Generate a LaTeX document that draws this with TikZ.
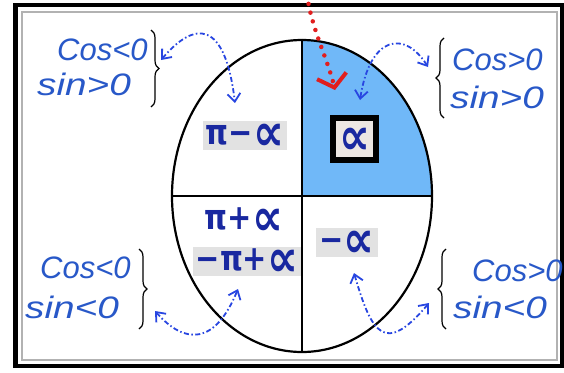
\documentclass[tikz,border=0pt]{standalone}
\usepackage{fontspec}
\usetikzlibrary{arrows.meta,decorations.pathreplacing,shapes.geometric}
\newfontfamily\hand{Liberation Sans}
\newfontfamily\mfont{DejaVu Sans}
\newcommand\prp{\raisebox{-5pt}[15pt][0pt]{\scalebox{1.5}{∝}}}
\newcommand\lbl[1]{\scalebox{1}[1.2]{#1}}
\newcommand\wide[1]{\scalebox{1.25}[1]{#1}}
\definecolor{qblue}{RGB}{112,184,248}
\definecolor{lblue}{RGB}{25,40,160}
\definecolor{tblue}{RGB}{40,88,200}
\definecolor{ablue}{RGB}{40,70,225}
\definecolor{rred}{RGB}{225,30,30}
\definecolor{bggray}{RGB}{226,226,226}
\definecolor{boxfill}{RGB}{236,230,226}
\begin{document}
\begin{tikzpicture}[x=1pt,y=-1pt,
  lab/.style={font=\mfont\bfseries\fontsize{29}{31}\selectfont, text=lblue, inner sep=3pt, text height=21pt, text depth=2pt},
  cond/.style={font=\hand\itshape\fontsize{31}{33}\selectfont, text=tblue, inner sep=0pt, anchor=base west},
  brc/.style={draw=black, decorate, decoration={brace, amplitude=8pt}, line width=1.2pt},
  conn/.style={draw=ablue, line width=1.8pt, dash pattern=on 5pt off 2.5pt on 1.5pt off 2.5pt,
     {Straight Barb[length=8pt,width=13pt]}-{Straight Barb[length=8pt,width=13pt]}},
]
\useasboundingbox (0,0) rectangle (564,372);
\fill[white] (0,0) rectangle (564,372);
% frame
\draw[line width=4.5pt] (15.5,5) rectangle (562,366);
\draw[gray!60, line width=2pt] (21.5,11.5) rectangle (557,359.5);
% quadrant fill
\begin{scope}
  \clip (302,196) rectangle (440,30);
  \fill[qblue] (302,196) ellipse [x radius=130, y radius=156];
\end{scope}
% oval and axes
\node[draw, ellipse, line width=2.2pt, minimum width=260pt, minimum height=312pt, inner sep=0pt] (oval) at (302,196) {};
\draw[line width=2pt] (oval.north) -- (oval.south);
\draw[line width=2pt] (oval.west) -- (oval.east);
% labels
\node[lab, fill=bggray] (pima) at (245,135) {\lbl{π−\prp}};
\node[lab, draw=black, line width=6pt, fill=boxfill, minimum width=43pt, minimum height=42pt, inner sep=0pt] (alpha) at (354.5,139) {\lbl{\prp}};
\node[lab] (pipa) at (244,220) {\lbl{π+\prp}};
\node[lab, fill=bggray] (mpipa) at (247,261) {\lbl{−π+\prp}};
\node[lab, fill=bggray] (ma) at (347,242) {\lbl{−\prp}};
% conditions
\node[cond] (tlc) at (57,60) {Cos<0};
\node[cond] (tls) at (37,95) {\wide{sin>0}};
\node[cond] (trc) at (452,70) {Cos>0};
\node[cond] (trs) at (450,108) {\wide{sin>0}};
\node[cond] (blc) at (40,278) {Cos<0};
\node[cond] (bls) at (25,318) {\wide{sin<0}};
\node[cond] (brc) at (472,281) {Cos>0};
\node[cond] (brs) at (453,318) {\wide{sin<0}};
% braces
\draw[brc] (151,30) -- (151,107);
\draw[brc] (444,118) -- (444,38);
\draw[brc] (139,249) -- (139,329);
\draw[brc] (446,329) -- (446,249);
% connector ends
\coordinate (tlb) at (161,60);  \coordinate (tla) at (235,103);
\coordinate (trb) at (428,67);  \coordinate (tra) at (360,100);
\coordinate (blb) at (155,311); \coordinate (bla) at (238,289);
\coordinate (brb) at (429,303); \coordinate (bra) at (354,273);
\draw[conn] (tlb) .. controls (195,20) and (225,20) .. (tla);
\draw[conn] (trb) .. controls (405,30) and (370,35) .. (tra);
\draw[conn] (blb) .. controls (185,345) and (215,345) .. (bla);
\draw[conn] (brb) .. controls (385,355) and (372,335) .. (bra);
% red arrow
\coordinate (redtop) at (307,-5);
\coordinate (redtip) at (335,90);
\draw[rred, line width=4.5pt, line cap=round, dash pattern=on 0pt off 9pt,
  -{Straight Barb[length=12pt,width=30pt,line width=4pt]}]
  (redtop) .. controls (312,30) and (328,60) .. (redtip);
\end{tikzpicture}
\end{document}
